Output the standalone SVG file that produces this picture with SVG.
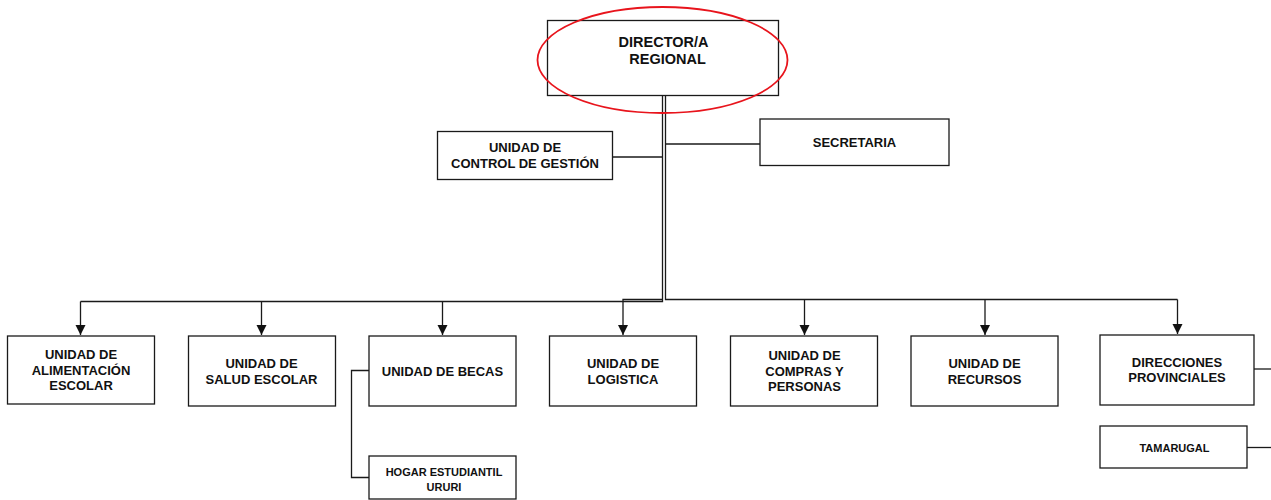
<svg xmlns="http://www.w3.org/2000/svg" width="1271" height="500" viewBox="0 0 1271 500">
<defs>
<marker id="arr" markerUnits="userSpaceOnUse" markerWidth="11" markerHeight="11" refX="10" refY="5" orient="auto">
<path d="M0,0 L10,5 L0,10 z" fill="#111"/>
</marker>
<style>
.box{fill:#fff;stroke:#1a1a1a;stroke-width:1.3}
.t{font-family:"Liberation Sans",Arial,sans-serif;font-weight:bold;font-size:13px;fill:#111;text-anchor:middle}
.s{font-size:11px}
.c{fill:none;stroke:#1a1a1a;stroke-width:1.3}
.ca{fill:none;stroke:#1a1a1a;stroke-width:1.3;marker-end:url(#arr)}
</style>
</defs>
<rect width="1271" height="500" fill="#fff"/>

<g id="connectors">
<path class="c" d="M612.5,157 H662.5"/>
<path class="c" d="M665.5,144 H760"/>
<path class="c" d="M662.5,96 V301.5 H80.5"/>
<path class="ca" d="M80.5,301.5 V335"/>
<path class="ca" d="M261.5,301.5 V335"/>
<path class="ca" d="M442.5,301.5 V335"/>
<path class="c" d="M665.5,96 V299.5 H1177.5"/>
<path class="ca" d="M662.5,299.5 H623 V335"/>
<path class="ca" d="M804.5,299.5 V335"/>
<path class="ca" d="M985,299.5 V335"/>
<path class="ca" d="M1177.5,299.5 V334"/>
<path class="c" d="M369,370.5 H351.5 V477.5 H369"/>
<path class="c" d="M1254,369 H1271"/>
<path class="c" d="M1247,447.5 H1271"/>
</g>

<g id="director">
<rect class="box" x="547.5" y="20.5" width="231" height="75"/>
<text class="t" style="font-size:14.5px"><tspan x="663.5" y="46.5">DIRECTOR/A</tspan><tspan x="667.5" y="64">REGIONAL</tspan></text>
<ellipse cx="662.5" cy="60" rx="125" ry="53" fill="none" stroke="#e8141c" stroke-width="1.8"/>
</g>

<g id="control">
<rect class="box" x="437.5" y="131.5" width="175" height="48"/>
<text class="t"><tspan x="525" y="152">UNIDAD DE</tspan><tspan x="525" y="168">CONTROL DE GESTIÓN</tspan></text>
</g>

<g id="secretaria">
<rect class="box" x="760" y="119" width="189" height="46.5"/>
<text class="t" x="854.5" y="147">SECRETARIA</text>
</g>

<g id="alimentacion">
<rect class="box" x="7.5" y="336" width="147" height="68"/>
<text class="t"><tspan x="81" y="359">UNIDAD DE</tspan><tspan x="81" y="374.5">ALIMENTACIÓN</tspan><tspan x="81" y="390">ESCOLAR</tspan></text>
</g>

<g id="salud">
<rect class="box" x="188.5" y="336" width="147" height="70"/>
<text class="t"><tspan x="261.5" y="368">UNIDAD DE</tspan><tspan x="261.5" y="384">SALUD ESCOLAR</tspan></text>
</g>

<g id="becas">
<rect class="box" x="369" y="336" width="147" height="70"/>
<text class="t" x="442.5" y="376">UNIDAD DE BECAS</text>
</g>

<g id="hogar">
<rect class="box" x="369" y="456" width="147" height="43"/>
<text class="t s"><tspan x="444" y="475.5">HOGAR ESTUDIANTIL</tspan><tspan x="444" y="491">URURI</tspan></text>
</g>

<g id="logistica">
<rect class="box" x="549.5" y="336" width="147" height="70"/>
<text class="t"><tspan x="623" y="368">UNIDAD DE</tspan><tspan x="623" y="384">LOGISTICA</tspan></text>
</g>

<g id="compras">
<rect class="box" x="730.5" y="336" width="147" height="70"/>
<text class="t"><tspan x="804.5" y="360">UNIDAD DE</tspan><tspan x="804.5" y="375.5">COMPRAS Y</tspan><tspan x="804.5" y="391">PERSONAS</tspan></text>
</g>

<g id="recursos">
<rect class="box" x="911" y="336" width="147" height="70"/>
<text class="t"><tspan x="984.5" y="368">UNIDAD DE</tspan><tspan x="984.5" y="384">RECURSOS</tspan></text>
</g>

<g id="direcciones">
<rect class="box" x="1100" y="335" width="154" height="70"/>
<text class="t"><tspan x="1177" y="366.5">DIRECCIONES</tspan><tspan x="1177" y="382">PROVINCIALES</tspan></text>
</g>

<g id="tamarugal">
<rect class="box" x="1100" y="426" width="147" height="42"/>
<text class="t s" x="1174.5" y="451.5">TAMARUGAL</text>
</g>
</svg>
